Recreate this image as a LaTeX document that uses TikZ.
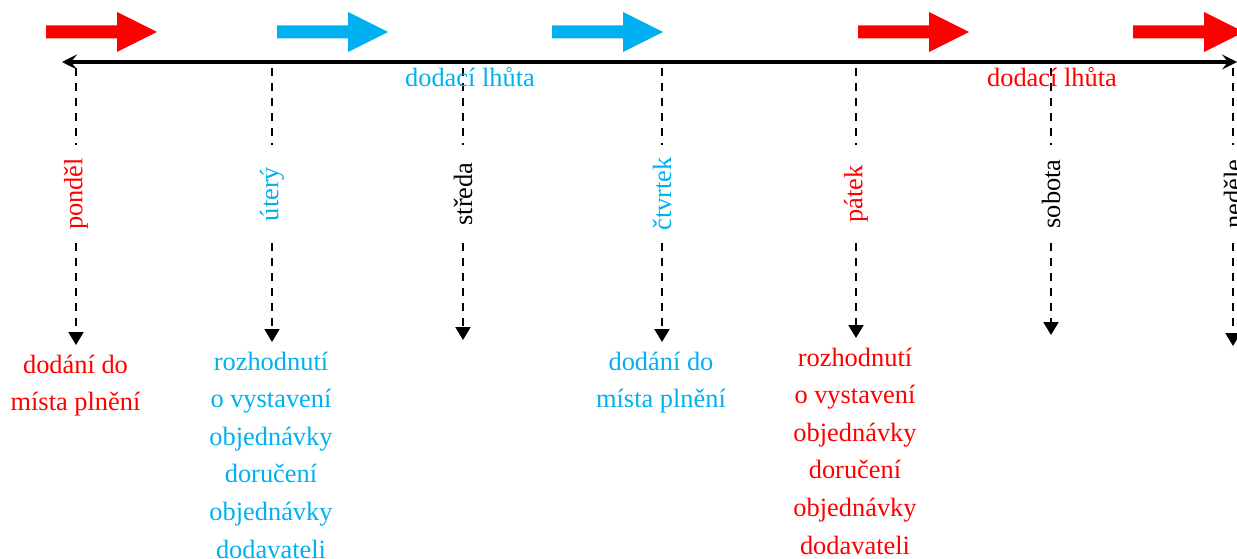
\documentclass[tikz,border=0pt]{standalone}
\usepackage{fontspec}
\setmainfont{Liberation Serif}
\usetikzlibrary{arrows.meta}
\definecolor{cblue}{HTML}{00B0F0}
\definecolor{cred}{HTML}{FF0000}
\newcommand\blkarrow[2]{\fill[#1] (#2,25.5) -- ++(71,0) -- ++(0,-13.5) -- ++(40,20) -- ++(-40,20) -- ++(0,-13.5) -- ++(-71,0) -- cycle;}
\begin{document}
\begin{tikzpicture}[x=1pt,y=-1pt,
  txt/.style={font=\fontsize{26.4}{37.6}\selectfont, inner sep=0pt},
  day/.style={txt, rotate=90, minimum width=98pt, minimum height=26pt, fill=white},
  drop/.style={line width=2pt, dash pattern=on 8pt off 7pt},
  droptip/.style={drop, -{Triangle[length=13pt,width=15pt]}},
  axis/.style={line width=3.6pt, {Stealth[length=15pt,width=15pt,inset=6pt]}-{Stealth[length=15pt,width=15pt,inset=6pt]}},
  multi/.style={txt, align=center, anchor=north}]
\useasboundingbox (0,0) rectangle (1237,559);
% block arrows
\blkarrow{cred}{46}
\blkarrow{cblue}{277}
\blkarrow{cblue}{552}
\blkarrow{cred}{858}
\blkarrow{cred}{1133}
% axis
\coordinate (L) at (62,62);
\coordinate (R) at (1237,62);
\draw[axis] (L) -- (R);
% day lines
\foreach \i/\x/\y/\c/\t in {1/76/345/cred/ponděl, 2/272/342/cblue/úterý, 3/463/340/black/středa, 4/662/342/cblue/čtvrtek, 5/856/338/cred/pátek, 6/1051/335/black/sobota, 7/1233/346/black/neděle}{
  \coordinate (t\i) at (\x,68);
  \coordinate (b\i) at (\x,\y);
  \node[day, text=\c] (d\i) at (\x,194) {\t};
  \draw[drop] (t\i) -- (d\i);
  \draw[droptip] (d\i) -- (b\i);
}
% labels on axis
\node[txt, text=cblue, anchor=base] (dl1) at (470,87) {dodací lhůta};
\node[txt, text=cred, anchor=base] (dl2) at (1052,87) {dodací lhůta};
% bottom texts
\node[multi, text=cred] (n1) at (75.5,354.5) {dodání do\\místa plnění};
\node[multi, text=cblue] (n2) at (271,351.5) {rozhodnutí\\o vystavení\\objednávky\\doručení\\objednávky\\dodavateli};
\node[multi, text=cblue] (n4) at (661,351.5) {dodání do\\místa plnění};
\node[multi, text=cred] (n5) at (855,347.5) {rozhodnutí\\o vystavení\\objednávky\\doručení\\objednávky\\dodavateli};
\end{tikzpicture}
\end{document}
